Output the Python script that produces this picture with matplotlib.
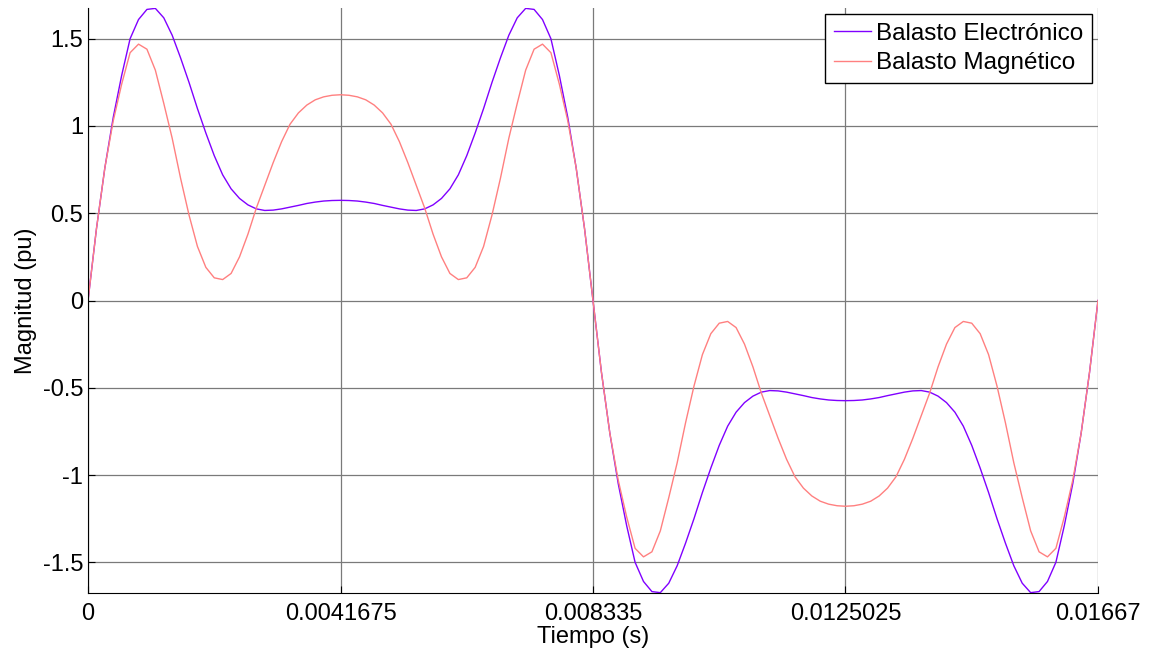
import numpy as np
import matplotlib
matplotlib.use("Agg")
import matplotlib.pyplot as plt

plt.rcParams["font.family"] = ["Liberation Sans", "DejaVu Sans"]

period = 0.01667
electronic = [
    0, 0.41, 0.76, 1.05, 1.29, 1.50, 1.61, 1.668, 1.674, 1.62,
    1.52, 1.39, 1.25, 1.10, 0.96, 0.83, 0.72, 0.64, 0.585, 0.548,
    0.525, 0.516, 0.518, 0.525, 0.535, 0.545, 0.556, 0.564, 0.570, 0.573,
    0.574, 0.573, 0.570, 0.564, 0.556, 0.545, 0.535, 0.525, 0.518, 0.516,
    0.525, 0.548, 0.585, 0.64, 0.72, 0.83, 0.96, 1.10, 1.25, 1.39,
    1.52, 1.62, 1.674, 1.668, 1.61, 1.50, 1.29, 1.05, 0.76, 0.41,
    0, -0.41, -0.76, -1.05, -1.29, -1.50, -1.61, -1.668, -1.674, -1.62,
    -1.52, -1.39, -1.25, -1.10, -0.96, -0.83, -0.72, -0.64, -0.585, -0.548,
    -0.525, -0.516, -0.518, -0.525, -0.535, -0.545, -0.556, -0.564, -0.570, -0.573,
    -0.574, -0.573, -0.570, -0.564, -0.556, -0.545, -0.535, -0.525, -0.518, -0.516,
    -0.525, -0.548, -0.585, -0.64, -0.72, -0.83, -0.96, -1.10, -1.25, -1.39,
    -1.52, -1.62, -1.674, -1.668, -1.61, -1.50, -1.29, -1.05, -0.76, -0.41,
    0,
]
magnetic = [
    0, 0.41, 0.76, 1.03, 1.24, 1.42, 1.469, 1.44, 1.32, 1.13,
    0.93, 0.70, 0.49, 0.31, 0.19, 0.13, 0.12, 0.155, 0.25, 0.38,
    0.53, 0.66, 0.79, 0.91, 1.01, 1.075, 1.12, 1.15, 1.167, 1.176,
    1.179, 1.176, 1.167, 1.15, 1.12, 1.075, 1.01, 0.91, 0.79, 0.66,
    0.53, 0.38, 0.25, 0.155, 0.12, 0.13, 0.19, 0.31, 0.49, 0.70,
    0.93, 1.13, 1.32, 1.44, 1.469, 1.42, 1.24, 1.03, 0.76, 0.41,
    0, -0.41, -0.76, -1.03, -1.24, -1.42, -1.469, -1.44, -1.32, -1.13,
    -0.93, -0.70, -0.49, -0.31, -0.19, -0.13, -0.12, -0.155, -0.25, -0.38,
    -0.53, -0.66, -0.79, -0.91, -1.01, -1.075, -1.12, -1.15, -1.167, -1.176,
    -1.179, -1.176, -1.167, -1.15, -1.12, -1.075, -1.01, -0.91, -0.79, -0.66,
    -0.53, -0.38, -0.25, -0.155, -0.12, -0.13, -0.19, -0.31, -0.49, -0.70,
    -0.93, -1.13, -1.32, -1.44, -1.469, -1.42, -1.24, -1.03, -0.76, -0.41,
    0,
]
x_ticks = [0, 0.0041675, 0.008335, 0.0125025, 0.01667]
x_labels = ["0", "0.0041675", "0.008335", "0.0125025", "0.01667"]
y_ticks = [-1.5, -1, -0.5, 0, 0.5, 1, 1.5]
y_labels = ["-1.5", "-1", "-0.5", "0", "0.5", "1", "1.5"]

t = np.linspace(0, period, len(electronic))

fig = plt.figure(figsize=(11.49, 6.52), dpi=100)
ax = fig.add_axes([0.0766, 0.0905, 0.879, 0.8972])

ax.plot(t, electronic, color="#8000ff", lw=1.0, label="Balasto Electrónico")
ax.plot(t, magnetic, color="#ff8080", lw=1.0, label="Balasto Magnético")

ax.set_xlim(0, period)
ax.set_ylim(-1.676, 1.676)
ax.set_xticks(x_ticks, x_labels)
ax.set_yticks(y_ticks, y_labels)
ax.tick_params(direction="in", labelsize=17, length=5, colors="black")
ax.tick_params(axis="x", pad=7)
ax.grid(True, color="#7a7a7a", lw=0.9)
ax.set_axisbelow(True)
for side in ["top", "right"]:
    ax.spines[side].set_visible(False)
ax.set_xlabel("Tiempo (s)", fontsize=17, labelpad=1)
ax.set_ylabel("Magnitud (pu)", fontsize=17, labelpad=4)

# legend box sits just inside the top-right corner, square black frame
leg = ax.legend(loc="upper right", fontsize=17.5, fancybox=False, framealpha=1,
                edgecolor="black", handlelength=1.55, handletextpad=0.2,
                borderpad=0.35, labelspacing=0.32, borderaxespad=0.25)
leg.get_frame().set_linewidth(1.0)

fig.savefig("out.png", dpi=100)
